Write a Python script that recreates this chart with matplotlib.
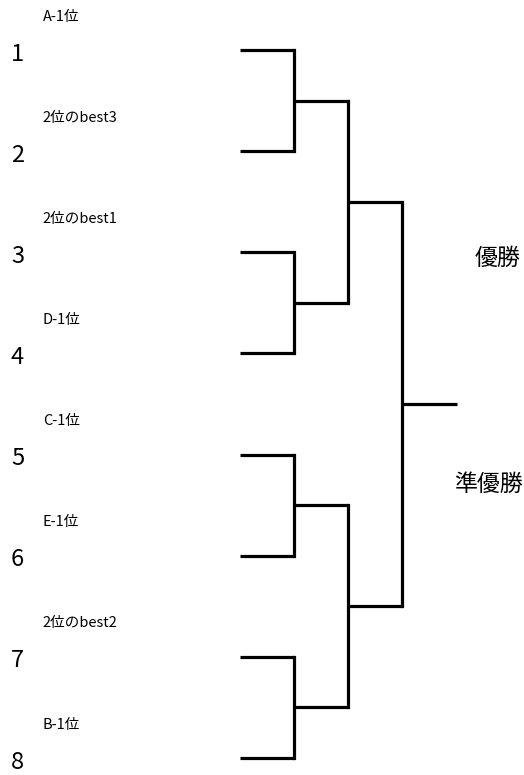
import matplotlib
matplotlib.use("Agg")
import matplotlib.pyplot as plt

plt.rcParams['font.family'] = ['Noto Sans CJK JP', 'DejaVu Sans']

seeds = [1, 2, 3, 4, 5, 6, 7, 8]
entries = ["A-1位", "2位のbest3", "2位のbest1", "D-1位",
           "C-1位", "E-1位", "2位のbest2", "B-1位"]
winner_label = "優勝"
runner_up_label = "準優勝"

fig = plt.figure(figsize=(5.24, 7.75), dpi=100)
ax = fig.add_axes([0, 0, 1, 1])
# x: round number, y: slot number
ax.set_xlim(-4.444, 5.259)
ax.set_ylim(7.168, -0.494)
ax.axis("off")

lw = 2.3
col = "black"


def draw_round(ys, r):
    # horizontal leads into the round r, then pair up
    nxt = []
    for y in ys:
        ax.plot([r, r + 1], [y, y], color=col, lw=lw, solid_capstyle="butt")
    for i in range(0, len(ys), 2):
        a, b = ys[i], ys[i + 1]
        ax.plot([r + 1, r + 1], [a, b], color=col, lw=lw, solid_capstyle="projecting")
        nxt.append((a + b) / 2)
    return nxt


ys = [float(i) for i in range(len(seeds))]
r = 0
while len(ys) > 1:
    ys = draw_round(ys, r)
    r += 1
ax.plot([r, r + 1.02], [ys[0], ys[0]], color=col, lw=lw, solid_capstyle="butt")

for i, (s, name) in enumerate(zip(seeds, entries)):
    ax.text(-4.12, i + 0.04, str(s), fontsize=17, ha="center", va="center")
    ax.text(-3.65, i - 0.33, name, fontsize=10.5, ha="left", va="center")

ax.text(4.77, 2.06, winner_label, fontsize=16.5, ha="center", va="center")
ax.text(4.6, 4.3, runner_up_label, fontsize=16.5, ha="center", va="center")

fig.savefig("out.png", dpi=100)
